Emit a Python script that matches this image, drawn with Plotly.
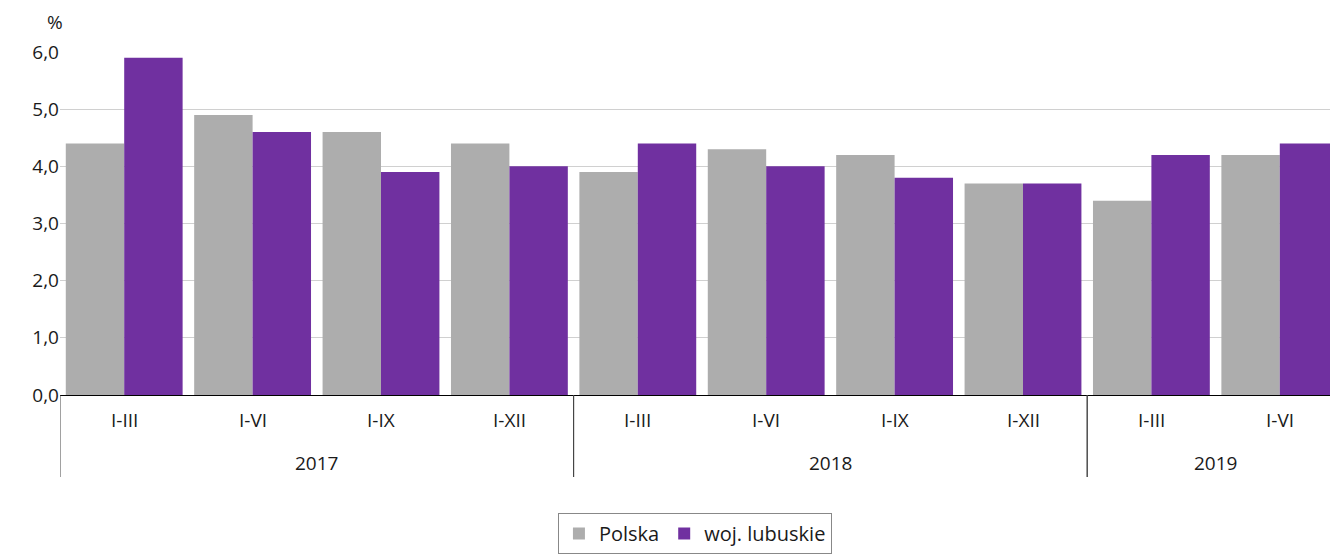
import plotly.graph_objects as go

years = ["2017", "2017", "2017", "2017", "2018", "2018", "2018", "2018", "2019", "2019"]
periods = ["I-III", "I-VI", "I-IX", "I-XII", "I-III", "I-VI", "I-IX", "I-XII", "I-III", "I-VI"]
polska = [4.4, 4.9, 4.6, 4.4, 3.9, 4.3, 4.2, 3.7, 3.4, 4.2]
lubuskie = [5.9, 4.6, 3.9, 4.0, 4.4, 4.0, 3.8, 3.7, 4.2, 4.4]
y_ticks = [0, 1, 2, 3, 4, 5, 6]

FONT = "Open Sans"
FS = 19
PLOT_H = 343

pos = list(range(len(periods)))

fig = go.Figure()
fig.add_trace(go.Bar(x=pos, y=polska, name="Polska",
                     marker=dict(color="#ADADAD", line=dict(width=0))))
fig.add_trace(go.Bar(x=pos, y=lubuskie, name="woj. lubuskie",
                     marker=dict(color="#7030A0", line=dict(width=0))))

annotations = []
shapes = []
# period labels
for i, p in enumerate(periods):
    annotations.append(dict(text=p, x=i, xref="x", y=-25 / PLOT_H, yref="paper",
                            xanchor="center", yanchor="middle", showarrow=False,
                            font=dict(family=FONT, size=FS)))
# year groups
groups = []
for i, yr in enumerate(years):
    if groups and groups[-1][0] == yr:
        groups[-1][2] = i
    else:
        groups.append([yr, i, i])
for yr, a, b in groups:
    annotations.append(dict(text=yr, x=(a + b) / 2, xref="x", y=-68 / PLOT_H, yref="paper",
                            xanchor="center", yanchor="middle", showarrow=False,
                            font=dict(family=FONT, size=FS)))
    for edge in (a - 0.5, b + 0.5):
        shapes.append(dict(type="line", xref="x", yref="paper", x0=edge, x1=edge,
                           y0=0, y1=-82 / PLOT_H, line=dict(color="#444444", width=1)))

annotations.append(dict(text="%", x=-0.004, xref="paper", y=(395 - 22) / PLOT_H, yref="paper",
                        xanchor="center", yanchor="middle", showarrow=False,
                        font=dict(family=FONT, size=FS)))

fig.update_layout(
    width=1336, height=547,
    margin=dict(l=52, r=0, t=44, b=547 - 44 - PLOT_H, autoexpand=False),
    barmode="group", bargap=0.09, bargroupgap=0,
    separators=", ",
    plot_bgcolor="white", paper_bgcolor="white",
    font=dict(family=FONT, size=FS, color="#1a1a1a"),
    legend=dict(orientation="h", x=0.4945, xanchor="center", y=-118 / PLOT_H, yanchor="top",
                bordercolor="#888888", borderwidth=1, font=dict(family=FONT, size=20),
                traceorder="normal"),
    xaxis=dict(range=[-0.5, len(periods) - 0.5], showline=True, linecolor="black", linewidth=1.2,
               showticklabels=False, showgrid=False, zeroline=False, ticks="", automargin=False),
    yaxis=dict(range=[0, 6], tickvals=y_ticks, tickformat=".1f",
               showgrid=True, gridcolor="#D0D0D0", gridwidth=1,
               zeroline=False, showline=False, ticks="",
               tickfont=dict(family=FONT, size=FS), automargin=False),
    annotations=annotations,
    shapes=shapes,
)

fig.write_html("out.html")
